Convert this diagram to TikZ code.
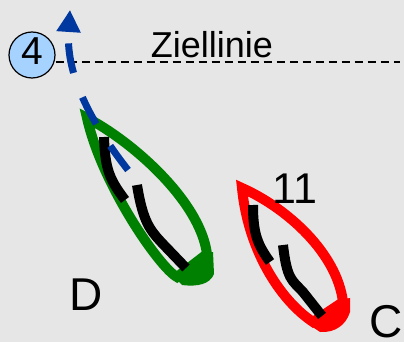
\documentclass[tikz,border=0pt]{standalone}
\usepackage{fontspec}
\setmainfont{Liberation Sans}
\usepackage{tikz}
\usetikzlibrary{arrows.meta}
\definecolor{bggray}{RGB}{230,230,230}
\definecolor{markblue}{RGB}{166,210,255}
\definecolor{courseblue}{RGB}{0,56,160}
\definecolor{boatgreen}{RGB}{0,128,0}
\newcommand{\namesize}{\fontsize{46}{50}\selectfont}
\tikzstyle{hull}=[line width=10pt, line join=miter]
\tikzstyle{crew}=[line width=10pt, black]
\tikzstyle{buoy}=[draw, circle, fill=markblue, line width=1.2pt, minimum size=46pt, inner sep=0,
                  text depth=8pt, font=\fontsize{39}{40}\selectfont]
\tikzstyle{finishline}=[dash pattern=on 8pt off 5pt, line width=1.5pt]
\tikzstyle{course}=[courseblue, line width=7pt, dash pattern=on 30pt off 26pt,
                    -{Triangle[length=22pt,width=23pt]}]
\tikzstyle{boatname}=[anchor=base, inner sep=0, font=\namesize]

\begin{document}
\begin{tikzpicture}[x=1pt, y=-1pt]
    \fill[bggray] (0,0) rectangle (404,342);
    \useasboundingbox (0,0) rectangle (404,342);

    % finish line and mark
    \node[buoy] (mark) at (32,55) {4};
    \coordinate (finish) at (400,62);
    \draw[finishline] (mark.east |- finish) -- (finish);
    \node[anchor=base, inner sep=0, font=\fontsize{36}{40}\selectfont] (title) at (212,58) {Ziellinie};

    % boat D
    \draw[hull, boatgreen] (87,118) .. controls (130,140) and (200,200) .. (207,254)
        -- (177,277) .. controls (160,268) and (102,185) .. cycle;
    \fill[boatgreen] (200,256) -- (213,252) -- (214,274) .. controls (210,284) and (198,287) .. (182,285) -- (176,279) -- cycle;
    \draw[crew] (104,137) .. controls (105,170) and (110,180) .. (125,200);
    \draw[crew] (137,185) .. controls (143,222) and (150,230) .. (162,243) -- (186,268);
    \node[boatname] (D) at (86,310) {D};

    % boat C
    \draw[hull, red] (242,188) .. controls (287,208) and (337,253) .. (343,302)
        -- (313,322) .. controls (280,300) and (248,250) .. cycle;
    \fill[red] (338,300) -- (350,298) -- (350,312) .. controls (346,325) and (335,333) .. (320,332) -- (311,326) -- cycle;
    \draw[crew] (253,205) .. controls (253,235) and (258,245) .. (270,262);
    \draw[crew] (283,245) .. controls (287,280) and (292,280) .. (303,292) -- (322,316);
    \node[boatname, font=\fontsize{43}{48}\selectfont] (sail) at (295,203) {11};
    \node[boatname] (C) at (386,337) {C};

    % course of boat D
    \coordinate (start) at (128,170);
    \coordinate (tip) at (70,10);
    \draw[course] (start) .. controls (85,115) and (66,70) .. (tip);
\end{tikzpicture}
\end{document}
